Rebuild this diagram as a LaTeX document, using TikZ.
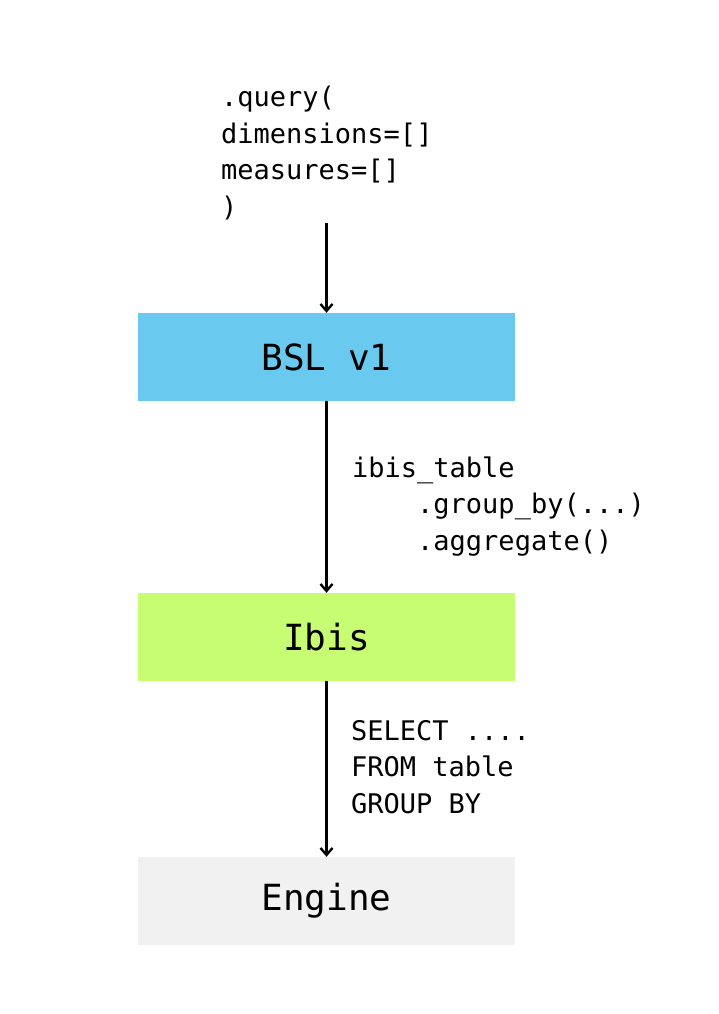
\documentclass[tikz,border=0pt]{standalone}
\usepackage{fontspec}
\setmonofont{DejaVu Sans Mono}
\usetikzlibrary{arrows.meta}
\definecolor{bslblue}{HTML}{69C9EF}
\definecolor{ibisgreen}{HTML}{C6FD73}
\definecolor{enginegray}{HTML}{F1F1F1}
\begin{document}
\begin{tikzpicture}[x=1pt,y=-1pt,
  layerbox/.style={minimum width=377pt,minimum height=88pt,inner sep=0pt,
    font=\ttfamily\fontsize{36}{40}\selectfont},
  codetext/.style={anchor=base west,inner sep=0pt,align=left,
    font=\ttfamily\fontsize{27}{36.5}\selectfont},
  flow/.style={line width=2.4pt,-{Straight Barb[length=7pt,width=12pt,line width=2.4pt]}}]
\useasboundingbox (0,0) rectangle (718,1014);
\node[layerbox,fill=bslblue] (bsl) at (326.5,357) {BSL v1};
\node[layerbox,fill=ibisgreen] (ibis) at (326.5,637) {Ibis};
\node[layerbox,fill=enginegray] (engine) at (326.5,901) {Engine};
\coordinate (start) at (326.5,223);
\node[codetext] (query) at (221,216) {.query(\\dimensions=[]\\measures=[]\\)};
\node[codetext] (ibiscode) at (352,550) {ibis\_table\\\ \ \ \ .group\_by(...)\\\ \ \ \ .aggregate()};
\node[codetext] (sql) at (351,813) {SELECT ....\\FROM table\\GROUP BY};
\draw[flow] (start) -- (bsl.north);
\draw[flow] (bsl.south) -- (ibis.north);
\draw[flow] (ibis.south) -- (engine.north);
\end{tikzpicture}
\end{document}
